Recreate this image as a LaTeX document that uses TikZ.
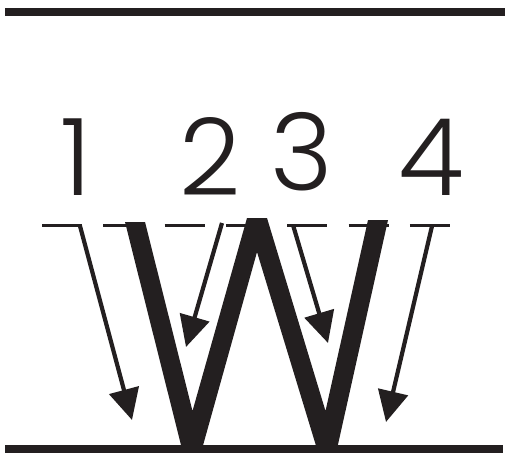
\documentclass[tikz,border=0pt]{standalone}
\usepackage{fontspec}
\setmainfont{Poppins}[UprightFont=* Light]
\usetikzlibrary{arrows.meta}
\definecolor{ink}{RGB}{35,31,32}
\tikzset{
  rule/.style={draw=ink, line width=#1},
  digit/.style={font=\fontsize{107}{107}\selectfont, text=ink, inner sep=0pt, anchor=base},
  ray/.style={draw=ink, line width=4.2pt, -{Triangle[length=31pt,width=30pt]}},
  dashline/.style={draw=ink, line width=3.3pt, dash pattern=on 40pt off 21.33pt},
}
\begin{document}
\begin{tikzpicture}[x=1pt,y=-1pt]
\useasboundingbox (0,0) rectangle (505,456);
% horizontal rules
\coordinate (tl) at (5,12); \coordinate (tr) at (505,12);
\coordinate (bl) at (5,449); \coordinate (br) at (503,449);
\coordinate (dl) at (42,225.7); \coordinate (dr) at (454,225.7);
\draw[rule=7.5pt] (tl) -- (tr);
\draw[rule=8pt] (bl) -- (br);
\draw[dashline] (dl) -- (dr);
% digits
\node[digit] (n1) at (76,195) {1};
\node[digit] (n2) at (210,195) {2};
\node[digit] (n3) at (302,190) {3};
\node[digit] (n4) at (431,195) {4};
% W shape
\fill[ink] (125,222) -- (145,222) -- (192.5,411) -- (247,218) -- (267,218)
  -- (325.5,411) -- (368,220) -- (388,220) -- (337,449) -- (317,449)
  -- (257,252) -- (202,449) -- (182,449) -- cycle;
% arrows
\coordinate (a1s) at (80,226);  \coordinate (a1e) at (132,420);
\coordinate (a2s) at (222,223); \coordinate (a2e) at (186,347);
\coordinate (a3s) at (293,225); \coordinate (a3e) at (328,343);
\coordinate (a4s) at (432,226); \coordinate (a4e) at (386,422);
\draw[ray] (a1s) -- (a1e);
\draw[ray] (a2s) -- (a2e);
\draw[ray] (a3s) -- (a3e);
\draw[ray] (a4s) -- (a4e);
\end{tikzpicture}
\end{document}
